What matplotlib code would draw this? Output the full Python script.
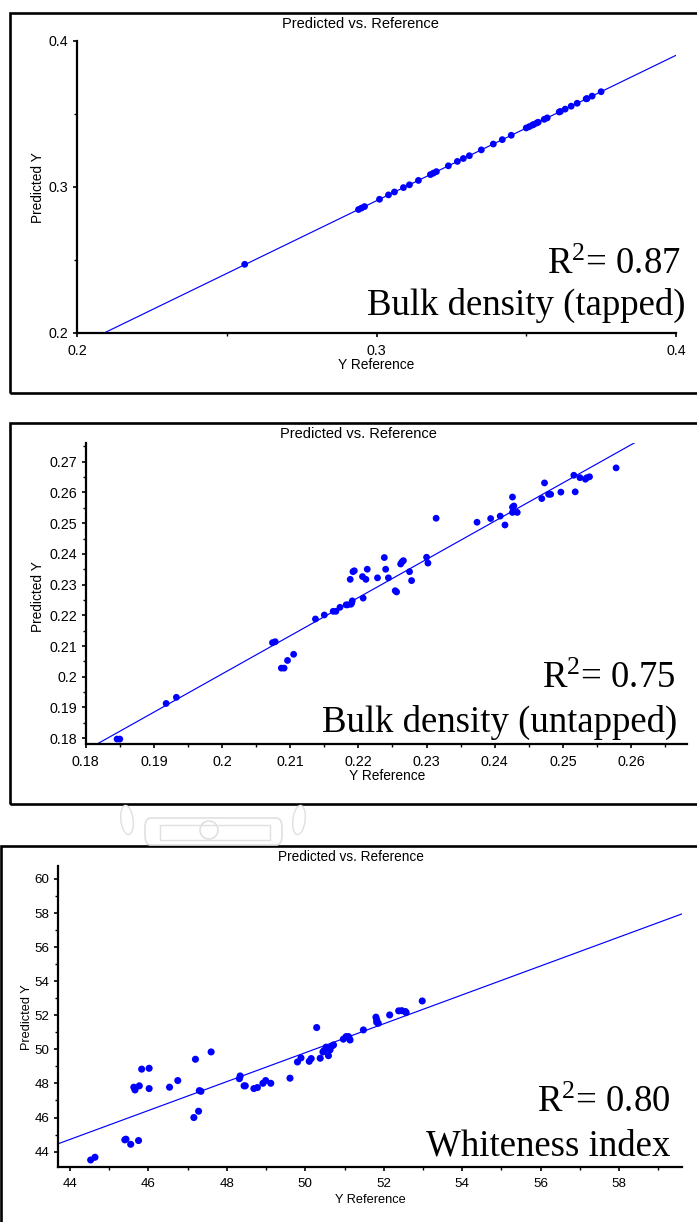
#!/usr/bin/env python3
# Predicted vs. reference plots for the three calibration models

import matplotlib
matplotlib.use("Agg")
import matplotlib.pyplot as plt
from matplotlib.patches import Rectangle, FancyBboxPatch, Ellipse
from matplotlib.ticker import MultipleLocator, FuncFormatter
import numpy as np

# --- Bulk density (tapped) ---
tap_ref = [0.256, 0.294, 0.295, 0.296, 0.301, 0.304, 0.306, 0.309, 0.311, 0.314,
           0.318, 0.319, 0.320, 0.324, 0.327, 0.329, 0.331, 0.335, 0.339, 0.342,
           0.345, 0.350, 0.351, 0.352, 0.3525, 0.3535, 0.354, 0.356, 0.357, 0.361,
           0.3614, 0.363, 0.365, 0.367, 0.370, 0.3703, 0.372, 0.375]
tap_pred = [0.2470, 0.2845, 0.2855, 0.2865, 0.2915, 0.2945, 0.2965, 0.2995, 0.3014, 0.3044,
            0.3084, 0.3094, 0.3104, 0.3144, 0.3174, 0.3194, 0.3213, 0.3253, 0.3293, 0.3323,
            0.3353, 0.3403, 0.3412, 0.3422, 0.3427, 0.3437, 0.3442, 0.3462, 0.3472, 0.3512,
            0.3516, 0.3532, 0.3552, 0.3572, 0.3602, 0.3604, 0.3621, 0.3651]
tap_fit = (0.995, -0.008)      # slope, intercept
tap_r2 = "0.87"

# --- Bulk density (untapped) ---
untap_ref = [0.1846, 0.1850, 0.1918, 0.1933, 0.2074, 0.2078, 0.2087, 0.2091, 0.2096, 0.2105,
             0.2137, 0.2150, 0.2163, 0.2167, 0.2173, 0.2182, 0.2184, 0.2189, 0.2191, 0.2190,
             0.2188, 0.2192, 0.2194, 0.2207, 0.2206, 0.2211, 0.2213, 0.2228, 0.2238, 0.2240,
             0.2244, 0.2254, 0.2256, 0.2262, 0.2264, 0.2266, 0.2275, 0.2278, 0.2300, 0.2302,
             0.2314, 0.2374, 0.2394, 0.2408, 0.2415, 0.2426, 0.2426, 0.2428, 0.2426, 0.2433,
             0.2469, 0.2473, 0.2479, 0.2482, 0.2497, 0.2516, 0.2518, 0.2525, 0.2533, 0.2535,
             0.2539, 0.2578]
untap_pred = [0.1797, 0.1797, 0.1913, 0.1933, 0.2111, 0.2114, 0.2028, 0.2028, 0.2053, 0.2073,
              0.2188, 0.2201, 0.2213, 0.2213, 0.2226, 0.2234, 0.2234, 0.2236, 0.2247, 0.2239,
              0.2317, 0.2342, 0.2345, 0.2256, 0.2326, 0.2317, 0.2350, 0.2322, 0.2388, 0.2350,
              0.2322, 0.2280, 0.2276, 0.2367, 0.2374, 0.2378, 0.2342, 0.2313, 0.2389, 0.2370,
              0.2516, 0.2503, 0.2515, 0.2523, 0.2494, 0.2585, 0.2552, 0.2556, 0.2535, 0.2535,
              0.2580, 0.2631, 0.2594, 0.2594, 0.2601, 0.2656, 0.2602, 0.2648, 0.2643, 0.2648,
              0.2651, 0.2680]
untap_fit = (1.244, -0.0479)
untap_r2 = "0.75"

# --- Whiteness index ---
white_ref = [44.53, 44.64, 45.40, 45.43, 45.55, 45.75, 45.63, 45.66, 45.77, 45.83,
             46.02, 46.02, 46.54, 46.75, 47.16, 47.28, 47.20, 47.30, 47.34, 47.60,
             48.32, 48.34, 48.44, 48.47, 48.69, 48.78, 48.92, 48.99, 49.12, 49.61,
             49.80, 49.89, 50.10, 50.15, 50.29, 50.38, 50.45, 50.48, 50.53, 50.59,
             50.63, 50.68, 50.72, 50.97, 51.04, 51.10, 51.14, 51.12, 51.48, 51.80,
             51.82, 51.82, 51.86, 52.15, 52.38, 52.46, 52.55, 52.57, 52.98]
white_pred = [43.51, 43.67, 44.69, 44.73, 44.43, 44.65, 47.78, 47.62, 47.86, 48.84,
              48.89, 47.70, 47.78, 48.17, 46.00, 46.37, 49.42, 47.58, 47.54, 49.85,
              48.28, 48.44, 47.86, 47.86, 47.70, 47.76, 48.01, 48.17, 48.01, 48.31,
              49.26, 49.50, 49.30, 49.46, 51.28, 49.48, 49.85, 49.93, 50.13, 49.63,
              49.97, 50.20, 50.26, 50.60, 50.75, 50.75, 50.55, 50.65, 51.14, 51.89,
              51.73, 51.59, 51.53, 52.02, 52.26, 52.27, 52.22, 52.16, 52.84]
white_fit = (0.8485, 7.38)
white_r2 = "0.80"

W, H = 697, 1222
BLUE = "#0000ff"

plt.rcParams["font.family"] = "Liberation Sans"
plt.rcParams["mathtext.fontset"] = "custom"
plt.rcParams["mathtext.rm"] = "Liberation Serif"
plt.rcParams["mathtext.it"] = "Liberation Serif:italic"

fig = plt.figure(figsize=(W / 100, H / 100), dpi=100)


def fx(px):
    return px / W


def fy(py):
    return 1 - py / H


def add_axes_px(left, top, right, bottom):
    return fig.add_axes([fx(left), fy(bottom), (right - left) / W, (bottom - top) / H])


def style_axes(ax, xlim, ylim, xstep, ystep, fs):
    for side in ("top", "right"):
        ax.spines[side].set_visible(False)
    for side in ("left", "bottom"):
        ax.spines[side].set_linewidth(1.6)
    ax.set_xlim(*xlim)
    ax.set_ylim(*ylim)
    ax.xaxis.set_major_locator(MultipleLocator(xstep))
    ax.xaxis.set_minor_locator(MultipleLocator(xstep / 2))
    ax.yaxis.set_major_locator(MultipleLocator(ystep))
    ax.yaxis.set_minor_locator(MultipleLocator(ystep / 2))
    fmt = FuncFormatter(lambda v, p: "%g" % round(v, 4))
    ax.xaxis.set_major_formatter(fmt)
    ax.yaxis.set_major_formatter(fmt)
    ax.tick_params(which="major", direction="out", length=3.2, width=1.2,
                   labelsize=fs, colors="black")
    ax.tick_params(which="minor", direction="out", length=2.0, width=1.0)
    ax.tick_params(axis="y", pad=3.0)
    ax.tick_params(axis="x", pad=4.5)


def draw_panel(box, axbox, xlim, ylim, xstep, ystep, ref, pred, fit, r2, name,
               title_xy, xlab_xy, ylab_xy, r2_xy, name_xy, fs, msize):
    # outer frame
    bx0, by0, bx1, by1 = box
    fig.patches.append(Rectangle((fx(bx0), fy(by1)), (bx1 - bx0) / W, (by1 - by0) / H,
                                 transform=fig.transFigure, fill=False,
                                 edgecolor="black", linewidth=1.9, clip_on=False))
    ax = add_axes_px(*axbox)
    style_axes(ax, xlim, ylim, xstep, ystep, fs)
    xs = np.array(xlim)
    slope, icpt = fit
    ax.plot(xs, icpt + slope * xs, color=BLUE, linewidth=0.85)
    ax.scatter(ref, pred, s=msize, color=BLUE, edgecolors="none", zorder=3)

    fig.text(fx(title_xy[0]), fy(title_xy[1]), "Predicted vs. Reference",
             ha="center", va="center", fontsize=fs + 0.2)
    fig.text(fx(xlab_xy[0]), fy(xlab_xy[1]), "Y Reference",
             ha="center", va="center", fontsize=fs - 0.4)
    fig.text(fx(ylab_xy[0]), fy(ylab_xy[1]), "Predicted Y", rotation=90,
             ha="center", va="center", fontsize=fs - 0.4)
    fig.text(fx(r2_xy[0]), fy(r2_xy[1]), "R$^2$= " + r2, ha="right", va="baseline",
             fontsize=26.5, family="Liberation Serif")
    fig.text(fx(name_xy[0]), fy(name_xy[1]), name, ha="right", va="baseline",
             fontsize=26.5, family="Liberation Serif")
    return ax


draw_panel((10, 13, 720, 393), (77, 40.7, 676, 333),
           (0.2, 0.4), (0.2, 0.4), 0.1, 0.1,
           tap_ref, tap_pred, tap_fit, tap_r2, "Bulk density (tapped)",
           (360, 24), (376, 365.5), (38, 188), (680.5, 273.5), (685.5, 315),
           10.3, 24)

draw_panel((10, 423, 720, 804), (85.7, 443.3, 687, 744.3),
           (0.18, 0.2682), (0.178, 0.276), 0.01, 0.01,
           untap_ref, untap_pred, untap_fit, untap_r2, "Bulk density (untapped)",
           (358, 434), (387, 776.5), (38.3, 596.7), (675.5, 688.5), (677, 731.5),
           10.3, 24)

draw_panel((1, 846, 720, 1240), (57.7, 866, 682, 1167.3),
           (43.69, 59.6), (43.08, 60.76), 2, 2,
           white_ref, white_pred, white_fit, white_r2, "Whiteness index",
           (351, 857.3), (370.5, 1200), (26.7, 1016.7), (670.5, 1111.7), (670, 1155),
           9.6, 26)

# faint emblem printed between the second and third frames
wm = "#e0e0e0"
fig.patches.append(FancyBboxPatch((fx(145), fy(845)), (282 - 145) / W, (845 - 818) / H,
                                  boxstyle="round,pad=0,rounding_size=0.008",
                                  transform=fig.transFigure, fill=False,
                                  edgecolor=wm, linewidth=1.2))
fig.patches.append(Rectangle((fx(160), fy(840)), (270 - 160) / W, (840 - 825) / H,
                             transform=fig.transFigure, fill=False,
                             edgecolor=wm, linewidth=1.0))
fig.patches.append(Ellipse((fx(209), fy(830)), 18 / W, 18 / H,
                           transform=fig.transFigure, fill=False,
                           edgecolor=wm, linewidth=1.2))
for cx, ang in ((127, 20), (299, -20)):
    fig.patches.append(Ellipse((fx(cx), fy(820)), 12 / W, 30 / H, angle=ang,
                               transform=fig.transFigure, fill=False,
                               edgecolor=wm, linewidth=1.0))

fig.savefig("out.png", dpi=100)
